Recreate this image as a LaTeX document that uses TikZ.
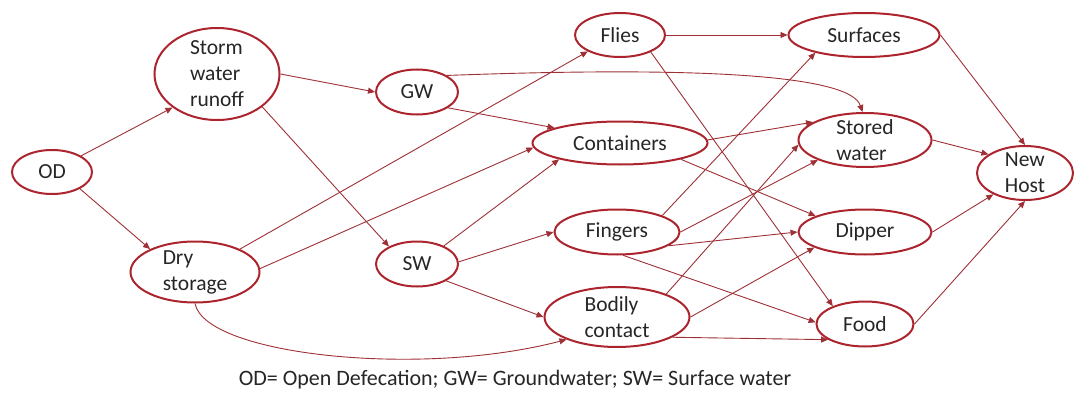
\documentclass[tikz,border=0pt]{standalone}
\usepackage{fontspec}
\setmainfont{Carlito}
\usepackage{tikz}
\usepackage{xcolor}
\usetikzlibrary{shapes.geometric,arrows.meta}
\definecolor{rand}{RGB}{172,36,46}
\definecolor{linie}{RGB}{158,48,54}
\definecolor{schrift}{RGB}{38,38,38}

\begin{document}
\begin{tikzpicture}[x=1pt, y=-1pt,
    blob/.style={ellipse, draw=rand, line width=2pt, text=schrift, inner sep=-8pt,
                 font=\fontsize{21.5}{26}\selectfont, align=left},
    pfeil/.style={draw=linie, line width=0.9pt, -{Triangle[length=7pt,width=6pt]}}]
            \useasboundingbox (0,0) rectangle (1077,404);  %Rahmen
            % Knoten
            \node [blob, minimum width=80, minimum height=44] (od) at (52,172) {OD};
            \node [blob, minimum width=125, minimum height=92] (storm) at (217,74) {Storm\\water\\runoff};
            \node [blob, minimum width=129, minimum height=61] (dry) at (195,272) {Dry\\storage};
            \node [blob, minimum width=82, minimum height=45] (gw) at (417,92) {GW};
            \node [blob, minimum width=82, minimum height=45] (sw) at (417,264) {SW};
            \node [blob, minimum width=90, minimum height=44] (flies) at (620,35) {Flies};
            \node [blob, minimum width=175, minimum height=43] (cont) at (620,143) {Containers};
            \node [blob, minimum width=125, minimum height=45] (fing) at (617,232) {Fingers};
            \node [blob, minimum width=145, minimum height=60] (body) at (617,317) {Bodily\\contact};
            \node [blob, minimum width=151, minimum height=44] (surf) at (864,35) {Surfaces};
            \node [blob, minimum width=133, minimum height=54] (stored) at (865,140) {Stored\\water};
            \node [blob, minimum width=133, minimum height=45] (dipper) at (865,232) {Dipper};
            \node [blob, minimum width=97, minimum height=45] (food) at (865,324) {Food};
            \node [blob, minimum width=96, minimum height=54] (host) at (1025,173) {New\\Host};
            % Pfeile
            \draw [pfeil] (od.29) -- (storm.217);
            \draw [pfeil] (od.-31) -- (dry.153);
            \draw [pfeil] (storm.east) -- (gw.west);
            \draw [pfeil] (storm.-36) -- (sw.148);
            \draw [pfeil] (gw.-27) -- (cont.167);
            \draw [pfeil] (gw.29) .. controls (700,66) and (850,75) .. (stored.95);
            \draw [pfeil] (dry.27) -- (flies.207);
            \draw [pfeil] (dry.3) -- (cont.183);
            \draw [pfeil] (dry.south) .. controls (205,355) and (420,378) .. (body.204);
            \draw [pfeil] (sw.34) -- (cont.195);
            \draw [pfeil] (sw.3) -- (fing.west);
            \draw [pfeil] (sw.-30) -- (body.west);
            \draw [pfeil] (flies.east) -- (surf.west);
            \draw [pfeil] (flies.-29) -- (food.151);
            \draw [pfeil] (cont.2) -- (stored.161);
            \draw [pfeil] (cont.-15) -- (dipper.162);
            \draw [pfeil] (fing.20) -- (surf.200);
            \draw [pfeil] (fing.0) -- (stored.203);
            \draw [pfeil] (fing.-15) -- (dipper.west);
            \draw [pfeil] (fing.-75) -- (food.178);
            \draw [pfeil] (body.25) -- (stored.184);
            \draw [pfeil] (body.east) -- (dipper.197);
            \draw [pfeil] (body.-20) -- (food.203);
            \draw [pfeil] (surf.east) -- (host.north);
            \draw [pfeil] (stored.east) -- (host.153);
            \draw [pfeil] (dipper.east) -- (host.214);
            \draw [pfeil] (food.east) -- (host.south);
            % Legende
            \node [text=schrift, font=\fontsize{22}{26}\selectfont] (legend) at (515,380)
                {OD= Open Defecation; GW= Groundwater; SW= Surface water};
        \end{tikzpicture}
\end{document}
